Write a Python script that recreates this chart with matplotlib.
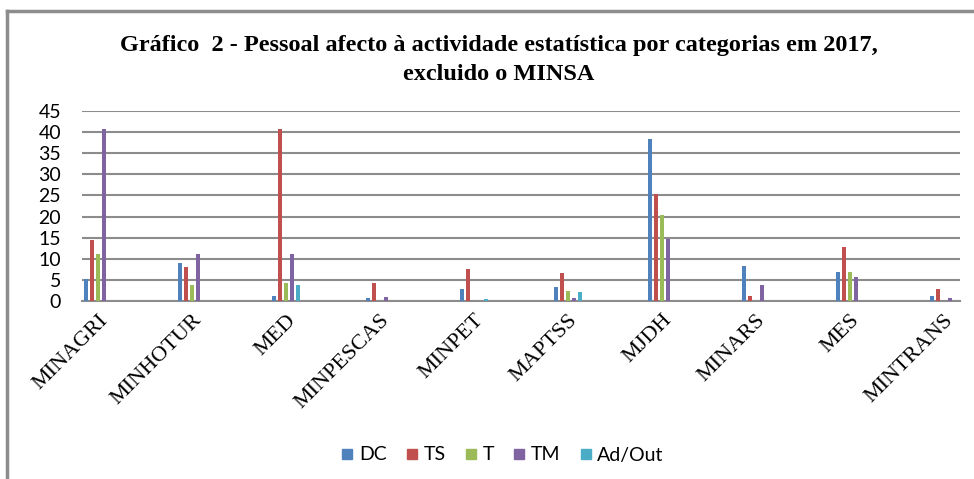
import numpy as np
import matplotlib.pyplot as plt
from matplotlib.lines import Line2D

# data
categories = ['MINAGRI', 'MINHOTUR', 'MED', 'MINPESCAS', 'MINPET',
              'MAPTSS', 'MJDH', 'MINARS', 'MES', 'MINTRANS']
series = ['DC', 'TS', 'T', 'TM', 'Ad/Out']
dc = [5.3, 9.1, 1.3, 0.8, 2.8, 3.3, 38.3, 8.4, 6.9, 1.3]
ts = [14.4, 8.1, 40.8, 4.3, 7.6, 6.6, 25.4, 1.3, 12.9, 2.8]
t = [11.1, 3.8, 4.3, 0, 0, 2.4, 20.4, 0, 6.9, 0]
tm = [40.8, 11.1, 11.1, 1.0, 0, 0.8, 14.8, 3.8, 5.8, 0.8]
ad_out = [0, 0, 3.8, 0, 0.5, 2.1, 0, 0, 0, 0]
colors = ['#4F81BD', '#C0504D', '#9BBB59', '#8064A2', '#4BACC6']

W, H = 974, 479
fig = plt.figure(figsize=(W / 100, H / 100), dpi=100)
ax = fig.add_axes([82 / W, 1 - 301 / H, (960 - 82) / W, (301 - 111) / H])

x = np.arange(len(categories))
stride = 0.064
width = 0.05
for k, (name, vals) in enumerate(zip(series, [dc, ts, t, tm, ad_out])):
    ax.bar(x + (k - 2) * stride, vals, width, color=colors[k],
           label=name, zorder=3)

ax.set_xlim(-0.17, 9.17)
ax.set_ylim(0, 45)
ax.set_yticks(range(0, 46, 5))
ax.yaxis.grid(True, color='#8c8c8c', linewidth=1.5, zorder=0)
ax.set_axisbelow(True)
for s in ['top', 'right', 'left']:
    ax.spines[s].set_visible(False)
ax.spines['bottom'].set_color('#8c8c8c')
ax.spines['bottom'].set_linewidth(1.5)
ax.tick_params(axis='both', length=0)
ax.tick_params(axis='y', labelsize=14, pad=15)
for lab in ax.get_yticklabels():
    lab.set_fontfamily('Lato')

ax.set_xticks(x)
ax.set_xticklabels(categories, rotation=45, ha='right',
                   rotation_mode='anchor', fontsize=16,
                   fontfamily='Liberation Serif')
ax.tick_params(axis='x', pad=7)

fig.text(0.512, 1 - 46 / H,
         'Gráfico  2 - Pessoal afecto à actividade estatística por categorias em 2017,',
         ha='center', va='center', fontsize=17.5, fontweight='bold',
         fontfamily='Liberation Serif')
fig.text(0.512, 1 - 75 / H, 'excluido o MINSA',
         ha='center', va='center', fontsize=17.5, fontweight='bold',
         fontfamily='Liberation Serif')

handles = [Line2D([], [], marker='s', linestyle='none', markersize=7,
                  color=c) for c in colors]
leg = fig.legend(handles, series, loc='center', ncol=5,
                 bbox_to_anchor=(0.513, 1 - 455 / H), frameon=False,
                 prop={'family': 'Lato', 'size': 14}, handletextpad=0.0,
                 columnspacing=0.7, handlelength=1.2)

# outer frame (top and left edges visible in the reference)
fig.add_artist(Line2D([7 / W, 7 / W], [0, 1 - 11 / H],
                      transform=fig.transFigure, color='#8c8c8c', lw=2.5))
fig.add_artist(Line2D([7 / W, 1], [1 - 11 / H, 1 - 11 / H],
                      transform=fig.transFigure, color='#8c8c8c', lw=2.5))

fig.savefig('out.png', dpi=100)
